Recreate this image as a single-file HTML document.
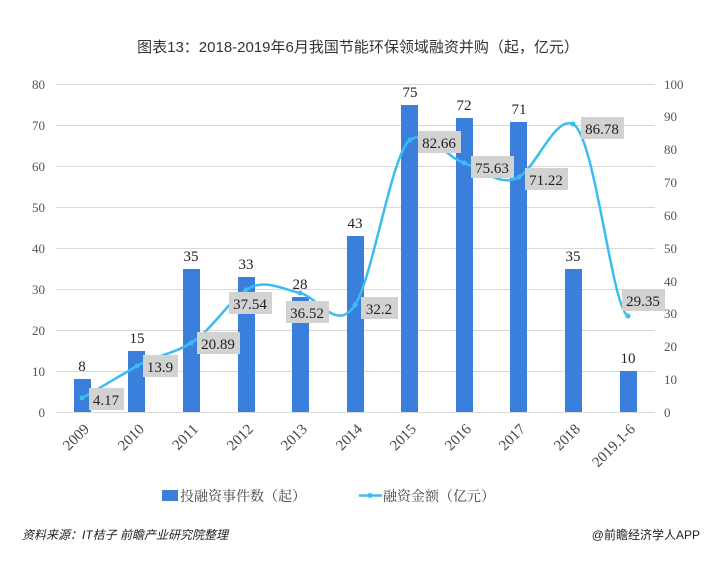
<!DOCTYPE html>
<html><head><meta charset="utf-8"><style>
body{margin:0;background:#fff;}
svg text{font-family:"Liberation Serif","Noto Serif CJK SC",serif;}
</style></head><body>
<svg width="716" height="562" xmlns="http://www.w3.org/2000/svg">
<rect width="716" height="562" fill="#fff"/>
<text x="358" y="52" text-anchor="middle" font-size="15" fill="#333" style="font-family:'Liberation Sans','Noto Sans CJK SC',sans-serif">图表13：2018-2019年6月我国节能环保领域融资并购（起，亿元）</text>
<g stroke="#d9d9d9" stroke-width="1">
<line x1="56" x2="655" y1="84.5" y2="84.5"/><line x1="56" x2="655" y1="125.5" y2="125.5"/>
<line x1="56" x2="655" y1="166.5" y2="166.5"/><line x1="56" x2="655" y1="207.5" y2="207.5"/>
<line x1="56" x2="655" y1="248.5" y2="248.5"/><line x1="56" x2="655" y1="289.5" y2="289.5"/>
<line x1="56" x2="655" y1="330.5" y2="330.5"/><line x1="56" x2="655" y1="371.5" y2="371.5"/>
<line x1="56" x2="655" y1="412.5" y2="412.5"/>
</g>
<g font-size="13" fill="#555" text-anchor="end">
<text x="45" y="89">80</text><text x="45" y="130">70</text><text x="45" y="171">60</text>
<text x="45" y="212">50</text><text x="45" y="253">40</text><text x="45" y="294">30</text>
<text x="45" y="335">20</text><text x="45" y="376">10</text><text x="45" y="417">0</text>
</g>
<g font-size="13" fill="#555" text-anchor="start">
<text x="664" y="89">100</text><text x="664" y="121">90</text><text x="664" y="154">80</text>
<text x="664" y="187">70</text><text x="664" y="220">60</text><text x="664" y="253">50</text>
<text x="664" y="286">40</text><text x="664" y="318">30</text><text x="664" y="351">20</text>
<text x="664" y="384">10</text><text x="664" y="417">0</text>
</g>
<g fill="#3a7fdc">
<rect x="74" y="379" width="17" height="33"/>
<rect x="128" y="351" width="17" height="61"/>
<rect x="183" y="269" width="17" height="143"/>
<rect x="238" y="277" width="17" height="135"/>
<rect x="292" y="297" width="17" height="115"/>
<rect x="347" y="236" width="17" height="176"/>
<rect x="401" y="105" width="17" height="307"/>
<rect x="456" y="118" width="17" height="294"/>
<rect x="510" y="122" width="17" height="290"/>
<rect x="565" y="269" width="17" height="143"/>
<rect x="620" y="371" width="17" height="41"/>
</g>
<g font-size="15" fill="#222" text-anchor="middle">
<text x="82" y="371">8</text><text x="137" y="343">15</text><text x="191" y="261">35</text>
<text x="246" y="269">33</text><text x="300" y="289">28</text><text x="355" y="228">43</text>
<text x="410" y="97">75</text><text x="464" y="110">72</text><text x="519" y="114">71</text>
<text x="573" y="261">35</text><text x="628" y="363">10</text>
</g>
<path d="M82,398 C100,388 118,377 137,366 C155,356 173,354 191,343 C210,332 228,302 246,290 C264,278 282,289 300,293 C318,297 337,333 355,305 C373,277 392,152 410,140 C428,128 446,157 464,163 C482,169 501,188 519,177 C537,166 555,116 573,124 C595,135 612,310 628,316" fill="none" stroke="#3dbcf0" stroke-width="2.5"/>
<g fill="#3dbcf0"><circle cx="82" cy="398" r="2.5"/><circle cx="137" cy="366" r="2.5"/><circle cx="191" cy="343" r="2.5"/><circle cx="246" cy="290" r="2.5"/><circle cx="300" cy="293" r="2.5"/><circle cx="355" cy="305" r="2.5"/><circle cx="410" cy="140" r="2.5"/><circle cx="464" cy="163" r="2.5"/><circle cx="519" cy="177" r="2.5"/><circle cx="573" cy="124" r="2.5"/><circle cx="628" cy="316" r="2.5"/></g>
<g fill="#d2d2d2">
<rect x="89" y="388" width="35" height="22"/><rect x="143" y="355" width="35" height="22"/>
<rect x="197" y="332" width="43" height="22"/><rect x="229" y="292" width="43" height="22"/>
<rect x="286" y="301" width="43" height="22"/><rect x="361" y="297" width="37" height="22"/>
<rect x="418" y="131" width="43" height="22"/><rect x="471" y="156" width="43" height="22"/>
<rect x="525" y="168" width="43" height="22"/><rect x="581" y="117" width="43" height="22"/>
<rect x="622" y="289" width="43" height="22"/>
</g>
<g font-size="15" fill="#222" text-anchor="middle">
<text x="106" y="405">4.17</text><text x="160" y="372">13.9</text><text x="218" y="349">20.89</text>
<text x="250" y="309">37.54</text><text x="307" y="318">36.52</text><text x="379" y="314">32.2</text>
<text x="439" y="148">82.66</text><text x="492" y="173">75.63</text><text x="546" y="185">71.22</text>
<text x="602" y="134">86.78</text><text x="643" y="306">29.35</text>
</g>
<g font-size="15" fill="#444" text-anchor="end">
<text transform="translate(90,430) rotate(-45)">2009</text>
<text transform="translate(145,430) rotate(-45)">2010</text>
<text transform="translate(199,430) rotate(-45)">2011</text>
<text transform="translate(254,430) rotate(-45)">2012</text>
<text transform="translate(308,430) rotate(-45)">2013</text>
<text transform="translate(363,430) rotate(-45)">2014</text>
<text transform="translate(417,430) rotate(-45)">2015</text>
<text transform="translate(472,430) rotate(-45)">2016</text>
<text transform="translate(526,430) rotate(-45)">2017</text>
<text transform="translate(581,430) rotate(-45)">2018</text>
<text transform="translate(636,430) rotate(-45)">2019.1-6</text>
</g>
<rect x="162" y="490" width="16" height="11" fill="#3a7fdc"/>
<text x="180" y="501" font-size="14" fill="#444" style="font-family:'Noto Serif CJK SC',serif">投融资事件数（起）</text>
<line x1="359" x2="382" y1="495.5" y2="495.5" stroke="#3dbcf0" stroke-width="2.5"/>
<circle cx="370" cy="495.5" r="2.5" fill="#3dbcf0"/>
<text x="383" y="501" font-size="14" fill="#444" style="font-family:'Noto Serif CJK SC',serif">融资金额（亿元）</text>
<text x="22" y="539" font-size="12" fill="#222" font-style="italic" style="font-family:'Liberation Sans','Noto Sans CJK SC',sans-serif">资料来源：IT桔子 前瞻产业研究院整理</text>
<text x="700" y="539" font-size="12" fill="#222" text-anchor="end" style="font-family:'Liberation Sans','Noto Sans CJK SC',sans-serif">@前瞻经济学人APP</text>
</svg>
</body></html>
